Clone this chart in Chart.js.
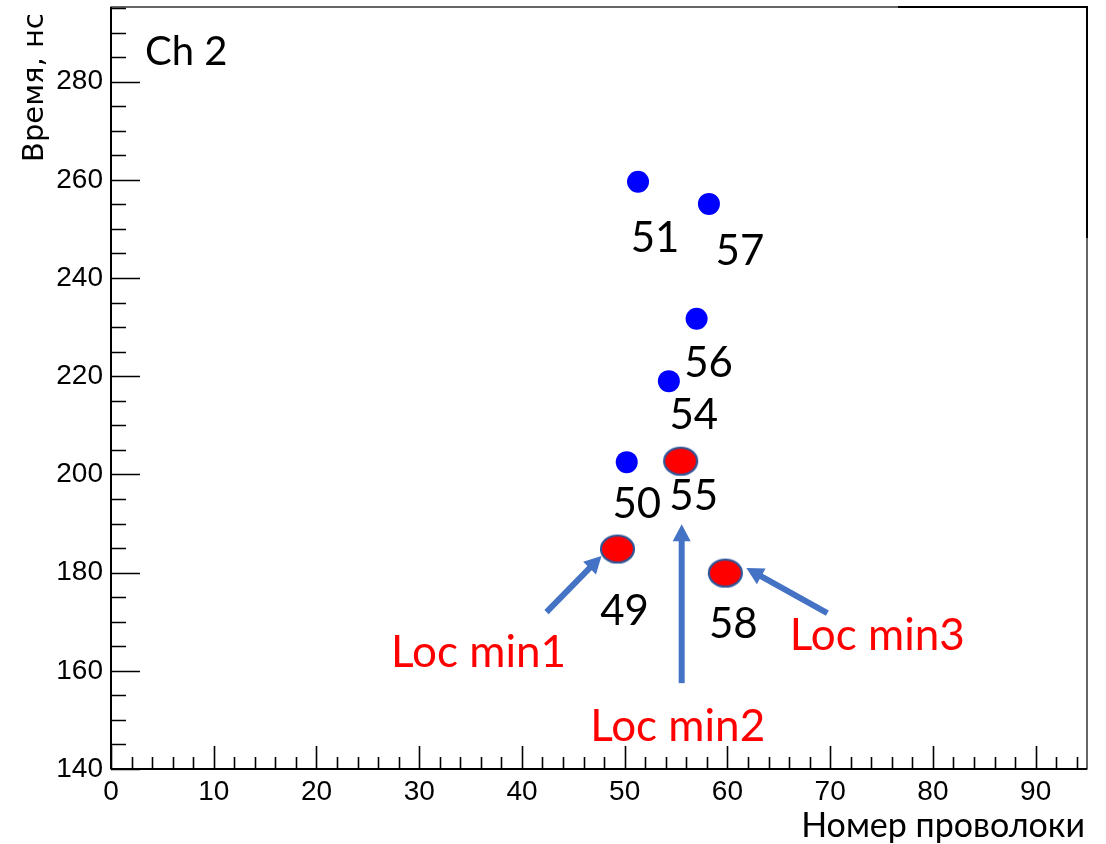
<!DOCTYPE html>
<html>
<head>
<meta charset="utf-8">
<script src="https://cdn.jsdelivr.net/npm/chart.js@4.4.1/dist/chart.umd.min.js"></script>
<style>
  html, body { margin: 0; padding: 0; background: #fff; }
  #wrap { width: 1106px; height: 844px; position: relative; }
</style>
</head>
<body>
<div id="wrap"><canvas id="chart" width="1106" height="844"></canvas></div>
<script>
// wire hits, blue = ordinary, red = local minima
const blueWires = [51, 57, 56, 54, 50];
const blueX = [51.3, 58.2, 57.0, 54.3, 50.2];
const blueY = [259.6, 255.1, 231.7, 219.0, 202.5];

const redWires = [49, 55, 58];
const redX = [49.3, 55.45, 59.8];
const redY = [184.8, 202.7, 179.9];
const redNames = ['Loc min1', 'Loc min2', 'Loc min3'];

const xTicks = [0, 10, 20, 30, 40, 50, 60, 70, 80, 90];
const yTicks = [140, 160, 180, 200, 220, 240, 260, 280];

// annotation placement, pixels relative to the point
const blueLabelOff = [[17, 70], [31, 61], [12, 58], [25, 48], [10, 56]];
const redLabelOff = [[7, 76], [13, 49], [8, 65]];
const nameOff = [[-139, 118], [-3, 280], [152, 77]];
const arrowOff = [
  {tip: [-16, 7], tail: [-71, 63]},
  {tip: [1, 63], tail: [1, 222]},
  {tip: [21, -5], tail: [102, 40]}
];

const NUM_FONT = '42px Lato, "Open Sans", sans-serif';
const NAME_FONT = '44px Lato, "Open Sans", sans-serif';
const ARROW = '#4472C4';

function ellipseMarker(w, h){
  let c = document.createElement('canvas');
  c.width = w + 4;
  c.height = h + 4;
  let g = c.getContext('2d');
  g.beginPath();
  g.ellipse(c.width / 2, c.height / 2, w / 2, h / 2, 0, 0, Math.PI * 2);
  g.fillStyle = '#FF0000';
  g.fill();
  g.lineWidth = 2.2;
  g.strokeStyle = '#2F5597';
  g.stroke();
  return c;
}

function drawArrow(ctx, x0, y0, x1, y1){
  let ang = Math.atan2(y1 - y0, x1 - x0);
  let len = Math.hypot(x1 - x0, y1 - y0);
  let headL = 17, headW = 9;
  ctx.save();
  ctx.translate(x0, y0);
  ctx.rotate(ang);
  ctx.fillStyle = ARROW;
  ctx.fillRect(0, -3, len - headL + 1, 6);
  ctx.beginPath();
  ctx.moveTo(len, 0);
  ctx.lineTo(len - headL, -headW);
  ctx.lineTo(len - headL, headW);
  ctx.closePath();
  ctx.fill();
  ctx.restore();
}

const rootFrame = {
  id: 'rootFrame',
  afterDatasetsDraw(chart){
    const ctx = chart.ctx;
    const xs = chart.scales.x, ys = chart.scales.y;
    const a = chart.chartArea;
    ctx.save();

    // frame
    ctx.strokeStyle = '#000';
    ctx.lineWidth = 1.2;
    ctx.strokeRect(a.left, a.top, a.right - a.left, a.bottom - a.top);
    ctx.lineWidth = 2;
    ctx.beginPath();
    ctx.moveTo(a.left, a.bottom); ctx.lineTo(a.right, a.bottom);
    ctx.moveTo(a.left, a.top); ctx.lineTo(a.left, a.bottom);
    ctx.moveTo(898, a.top); ctx.lineTo(a.right, a.top); ctx.lineTo(a.right, 238);
    ctx.stroke();

    // inward ticks
    ctx.lineWidth = 1.6;
    ctx.beginPath();
    for (let v = 0; v <= 95; v += 2){
      let px = Math.round(xs.getPixelForValue(v)) + 0.5;
      let l = v % 10 === 0 ? 23 : 12;
      ctx.moveTo(px, a.bottom); ctx.lineTo(px, a.bottom - l);
    }
    for (let v = 140; v <= 295; v += 5){
      let py = Math.round(ys.getPixelForValue(v)) + 0.5;
      if (py < a.top + 1) continue;
      let l = v % 20 === 0 ? 29 : 15;
      ctx.moveTo(a.left, py); ctx.lineTo(a.left + l, py);
    }
    ctx.stroke();

    // wire numbers
    ctx.fillStyle = '#000';
    ctx.font = NUM_FONT;
    ctx.textAlign = 'center';
    ctx.textBaseline = 'alphabetic';
    blueWires.forEach((w, i) => {
      let px = xs.getPixelForValue(blueX[i]), py = ys.getPixelForValue(blueY[i]);
      ctx.fillText(String(w), px + blueLabelOff[i][0], py + blueLabelOff[i][1]);
    });
    redWires.forEach((w, i) => {
      let px = xs.getPixelForValue(redX[i]), py = ys.getPixelForValue(redY[i]);
      ctx.fillText(String(w), px + redLabelOff[i][0], py + redLabelOff[i][1]);
    });

    // local minima arrows + names
    ctx.font = NAME_FONT;
    redNames.forEach((n, i) => {
      let px = xs.getPixelForValue(redX[i]), py = ys.getPixelForValue(redY[i]);
      let o = arrowOff[i];
      drawArrow(ctx, px + o.tail[0], py + o.tail[1], px + o.tip[0], py + o.tip[1]);
      ctx.fillStyle = '#FF0000';
      ctx.fillText(n, px + nameOff[i][0], py + nameOff[i][1]);
    });

    // titles
    ctx.fillStyle = '#000';
    ctx.textAlign = 'left';
    ctx.font = '40px Lato, "Open Sans", sans-serif';
    ctx.fillText('Ch 2', 145, 65);

    ctx.textAlign = 'right';
    ctx.font = '34px Lato, "Open Sans", sans-serif';
    ctx.fillText('Номер проволоки', 1085, 837);

    ctx.translate(43, 162);
    ctx.rotate(-Math.PI / 2);
    ctx.textAlign = 'left';
    ctx.font = '29px "DejaVu Sans", sans-serif';
    ctx.fillText('Время, нс', 0, 0);
    ctx.restore();
  }
};

const el = document.getElementById('chart');
new Chart(el, {
  type: 'scatter',
  data: {
    datasets: [{
      label: 'hits',
      data: blueX.map((x, i) => ({x: x, y: blueY[i]})),
      pointStyle: 'circle',
      pointRadius: 11,
      backgroundColor: '#0000FF',
      borderWidth: 0
    }, {
      label: 'minima',
      data: redX.map((x, i) => ({x: x, y: redY[i]})),
      pointStyle: ellipseMarker(33, 27),
      pointRadius: 16
    }]
  },
  options: {
    responsive: false,
    animation: false,
    events: [],
    devicePixelRatio: 1,
    layout: { autoPadding: false, padding: { top: 7, right: 19, left: 0, bottom: 0 } },
    plugins: { legend: { display: false }, tooltip: { enabled: false } },
    scales: {
      x: {
        type: 'linear', min: 0, max: 95,
        grid: { display: false, drawTicks: false },
        border: { display: false },
        afterBuildTicks: s => { s.ticks = xTicks.map(v => ({value: v})); },
        afterFit: s => { s.height = 75; s.paddingLeft = 0; s.paddingRight = 0; },
        ticks: { padding: 6, color: '#000', font: { family: '"Liberation Sans", Arial, sans-serif', size: 28 }, maxRotation: 0 }
      },
      y: {
        type: 'linear', min: 140, max: 295.2,
        grid: { display: false, drawTicks: false },
        border: { display: false },
        afterBuildTicks: s => { s.ticks = yTicks.map(v => ({value: v})); },
        afterFit: s => { s.width = 111; s.paddingTop = 0; s.paddingBottom = 0; },
        ticks: { padding: 8, color: '#000', font: { family: '"Liberation Sans", Arial, sans-serif', size: 28 } }
      }
    }
  },
  plugins: [rootFrame]
});
</script>
</body>
</html>
